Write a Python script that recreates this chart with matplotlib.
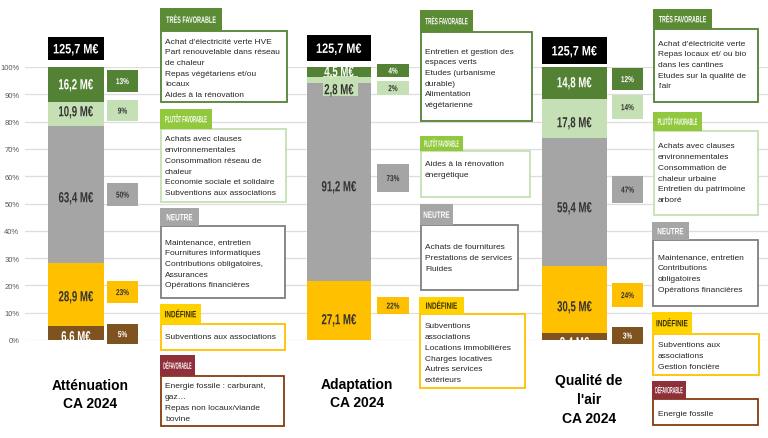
import matplotlib
matplotlib.use("Agg")
import matplotlib.pyplot as plt
from matplotlib.font_manager import FontProperties
from matplotlib.patches import PathPatch, Rectangle
from matplotlib.textpath import TextPath
from matplotlib.transforms import Affine2D

# --- données (M€), de bas en haut ---
categories = ["Défavorable", "Indéfinie", "Neutre", "Plutôt favorable", "Très favorable"]
axes_titles = ["Atténuation\nCA 2024", "Adaptation\nCA 2024", "Qualité de\nl'air\nCA 2024"]
totals_meur = [125.7, 125.7, 125.7]
attenuation_meur = [6.6, 28.9, 63.4, 10.9, 16.2]
adaptation_meur = [0.0, 27.1, 91.2, 2.8, 4.5]
qualite_air_meur = [3.4, 30.5, 59.4, 17.8, 14.8]
attenuation_pct = [5, 23, 50, 9, 13]
adaptation_pct = [None, 22, 73, 2, 4]
qualite_air_pct = [3, 24, 47, 14, 12]

# contenu des encadrés (par axe, par catégorie)
att_items = {
    "Très favorable": ["Achat d'électricité verte HVE", "Part renouvelable dans réseau", "de chaleur",
                       "Repas végétariens et/ou", "locaux", "Aides à la rénovation"],
    "Plutôt favorable": ["Achats avec clauses", "environnementales", "Consommation réseau de", "chaleur",
                         "Economie sociale et solidaire", "Subventions aux associations"],
    "Neutre": ["Maintenance, entretien", "Fournitures informatiques", "Contributions obligatoires,",
               "Assurances", "Opérations financières"],
    "Indéfinie": ["Subventions aux associations"],
    "Défavorable": ["Energie fossile : carburant,", "gaz…", "Repas non locaux/viande", "bovine"],
}
ada_items = {
    "Très favorable": ["Entretien et gestion des", "espaces verts", "Etudes (urbanisme", "durable)",
                       "Alimentation", "végétarienne"],
    "Plutôt favorable": ["Aides à la rénovation", "énergétique"],
    "Neutre": ["Achats de fournitures", "Prestations de services", "Fluides"],
    "Indéfinie": ["Subventions", "associations", "Locations immobilières", "Charges locatives",
                  "Autres services", "extérieurs"],
}
air_items = {
    "Très favorable": ["Achat d'électricité verte", "Repas locaux et/ ou bio", "dans les cantines",
                       "Etudes sur la qualité de", "l'air"],
    "Plutôt favorable": ["Achats avec clauses", "environnementales", "Consommation de", "chaleur urbaine",
                         "Entretien du patrimoine", "arboré"],
    "Neutre": ["Maintenance, entretien", "Contributions", "obligatoires", "Opérations financières"],
    "Indéfinie": ["Subventions aux", "associations", "Gestion foncière"],
    "Défavorable": ["Energie fossile"],
}

# --- styles ---
SEG_COLORS = ["#7F5320", "#FFC000", "#A5A5A5", "#C5E0B4", "#548235"]
SEG_TEXT = ["white", "#333333", "#333333", "#333333", "white"]
HEAD_FILL = {"Très favorable": "#5B8C35", "Plutôt favorable": "#92C83E", "Neutre": "#A6A6A6",
             "Indéfinie": "#FFD200", "Défavorable": "#8E2F3A"}
HEAD_TEXT = {"Très favorable": "white", "Plutôt favorable": "white", "Neutre": "white",
             "Indéfinie": "#3A2E00", "Défavorable": "white"}
BOX_EDGE = {"Très favorable": "#548235", "Plutôt favorable": "#C5E0B4", "Neutre": "#7F7F7F",
            "Indéfinie": "#FFC000", "Défavorable": "#843C0C"}
BODY = "Liberation Sans"

W, H = 768, 439
Y0, Y100 = 341, 68  # pixels des lignes 0 % et 100 %


def _py(p):
    """pixel vertical -> % de l'axe"""
    return (Y0 - p) / (Y0 - Y100) * 100


def _fmt(v):
    return f"{v:.1f}".replace(".", ",") + " M€"


def ctext(axis, x, y, s, size, color, sx=0.75, bold=False, fit=None, zorder=4):
    """Texte condensé (pas de police étroite installée) : chemin compressé en largeur."""
    fp = FontProperties(family=BODY, weight="bold" if bold else "normal")
    px = size * 100 / 72
    tp = TextPath((0, 0), s, size=px, prop=fp)
    ext = tp.get_extents()
    if fit is not None:
        sx = min(sx, fit / ext.width)
    X, Y = axis.transData.transform((x, y))
    tr = (Affine2D().translate(-(ext.x0 + ext.x1) / 2, -0.36 * px)
          .scale(sx, 1).translate(X, Y))
    axis.add_patch(PathPatch(tp, transform=tr, fc=color, ec="none", lw=0,
                             zorder=zorder, clip_on=False))


# --- mise en page (pixels) ---
bar_x = [(48, 104), (307, 371), (542, 607)]
pct_x = [(107, 138), (377, 409), (612, 643)]
pct_y = [
    [(325, 345), (282, 304), (184, 207), (101, 122), (71, 93)],
    [None, (298, 315), (165, 193), (82, 96), (65, 78)],
    [(328, 345), (284, 308), (177, 204), (96, 120), (69, 91)],
]
label_y = [
    [337, 297, 198, 112, 85],
    [None, 320, 187, 90, 72],
    [343, 307, 208, 123, 83],
]
total_y = [(38, 61), (36, 62), (38, 65)]
title_xy = [(90, 395), (357, 394), (589, 400)]

# (header x, header y, header w, header h, box x1, box bottom, first line y)
col_text_x = [165, 425, 658]
col_layout = [
    {"Très favorable": (160, 9, 62, 23, 287, 103, 42),
     "Plutôt favorable": (160, 110, 52, 20, 286, 203, 140),
     "Neutre": (160, 209, 39, 18, 285, 299, 243),
     "Indéfinie": (160, 305, 41, 20, 285, 351, 338),
     "Défavorable": (160, 356, 35, 21, 284, 427, 387)},
    {"Très favorable": (420, 11, 53, 22, 532, 122, 52),
     "Plutôt favorable": (420, 137, 43, 15, 530, 198, 165),
     "Neutre": (420, 205, 33, 21, 518, 291, 248),
     "Indéfinie": (419, 298, 45, 17, 525, 389, 327)},
    {"Très favorable": (653, 10, 59, 20, 758, 103, 44),
     "Plutôt favorable": (653, 113, 49, 19, 758, 216, 147),
     "Neutre": (652, 223, 37, 18, 758, 307, 258),
     "Indéfinie": (652, 313, 40, 22, 759, 376, 346),
     "Défavorable": (652, 382, 34, 18, 758, 426, 415)},
]
LINE_STEP = 10.7

fig = plt.figure(figsize=(W / 100, H / 100), dpi=100)
fig.patch.set_facecolor("white")

# axe principal : x en pixels, y en %
ax = fig.add_axes([25 / W, (H - Y0) / H, (W - 25) / W, (Y0 - Y100) / H])
ax.set_xlim(25, W)
ax.set_ylim(0, 100)
ax.set_axisbelow(True)
for s in ax.spines.values():
    s.set_visible(False)
ax.set_xticks([])
ax.set_yticks(range(0, 101, 10))
ax.set_yticklabels([f"{t}%" for t in range(0, 101, 10)], fontsize=5.5, color="#595959", family=BODY)
ax.tick_params(axis="y", length=0, pad=4)
ax.grid(axis="y", color="#DDDDDD", linewidth=0.9)

series = [attenuation_meur, adaptation_meur, qualite_air_meur]
pcts = [attenuation_pct, adaptation_pct, qualite_air_pct]

for b, vals in enumerate(series):
    x0, x1 = bar_x[b]
    tot = sum(vals)
    bottom = 0.0
    for i, v in enumerate(vals):
        h = v / tot * 100
        if v > 0:
            ax.bar((x0 + x1) / 2, h, width=x1 - x0, bottom=bottom, color=SEG_COLORS[i], zorder=2)
            if b == 1 and i == 3:
                # petit cartouche vert clair sous le segment trop fin
                ax.add_patch(Rectangle((323, _py(97)), 35, _py(77) - _py(97), fc=SEG_COLORS[i],
                                       ec="none", zorder=3))
            ctext(ax, (x0 + x1) / 2, _py(label_y[b][i]), _fmt(v), 10.5, SEG_TEXT[i],
                  sx=0.66, bold=True)
        bottom += h

        # étiquette de pourcentage
        p = pcts[b][i]
        if p is not None:
            px0, px1 = pct_x[b]
            py0, py1 = pct_y[b][i]
            ax.add_patch(Rectangle((px0, _py(py1)), px1 - px0, _py(py0) - _py(py1),
                                   fc=SEG_COLORS[i], ec="none", zorder=3, clip_on=False))
            ctext(ax, (px0 + px1) / 2, _py((py0 + py1) / 2), f"{p}%", 6.2, SEG_TEXT[i],
                  sx=0.75, bold=True)

    # total
    ty0, ty1 = total_y[b]
    ax.add_patch(Rectangle((x0, _py(ty1)), x1 - x0, _py(ty0) - _py(ty1), fc="black", ec="none",
                           zorder=3, clip_on=False))
    ctext(ax, (x0 + x1) / 2, _py((ty0 + ty1) / 2), _fmt(totals_meur[b]), 9.8, "white",
          sx=0.8, bold=True)

# calque des encadrés, en pixels
ov = fig.add_axes([0, 0, 1, 1], zorder=5)
ov.set_xlim(0, W)
ov.set_ylim(H, 0)
ov.axis("off")

for c, items in enumerate([att_items, ada_items, air_items]):
    for cat, lines in items.items():
        hx, hy, hw, hh, bx1, bb, ly = col_layout[c][cat]
        ov.add_patch(Rectangle((hx + 1, hy + hh), bx1 - hx - 1, bb - hy - hh, fc="white",
                               ec=BOX_EDGE[cat], lw=1.3, zorder=2))
        ov.add_patch(Rectangle((hx, hy), hw, hh, fc=HEAD_FILL[cat], ec="none", zorder=3))
        ctext(ov, hx + hw / 2, hy + hh / 2, cat.upper(), 6.6, HEAD_TEXT[cat], sx=0.7,
              bold=True, fit=0.8 * hw)
        for k, line in enumerate(lines):
            ov.text(col_text_x[c], ly + k * LINE_STEP, line, ha="left", va="center", fontsize=6,
                    family=BODY, color="#262626", zorder=4)

for (tx, ty), t in zip(title_xy, axes_titles):
    ov.text(tx, ty, t, ha="center", va="center", fontsize=10, fontweight="bold", family=BODY,
            color="black", linespacing=1.45)

fig.savefig("out.png", dpi=100, facecolor="white")
